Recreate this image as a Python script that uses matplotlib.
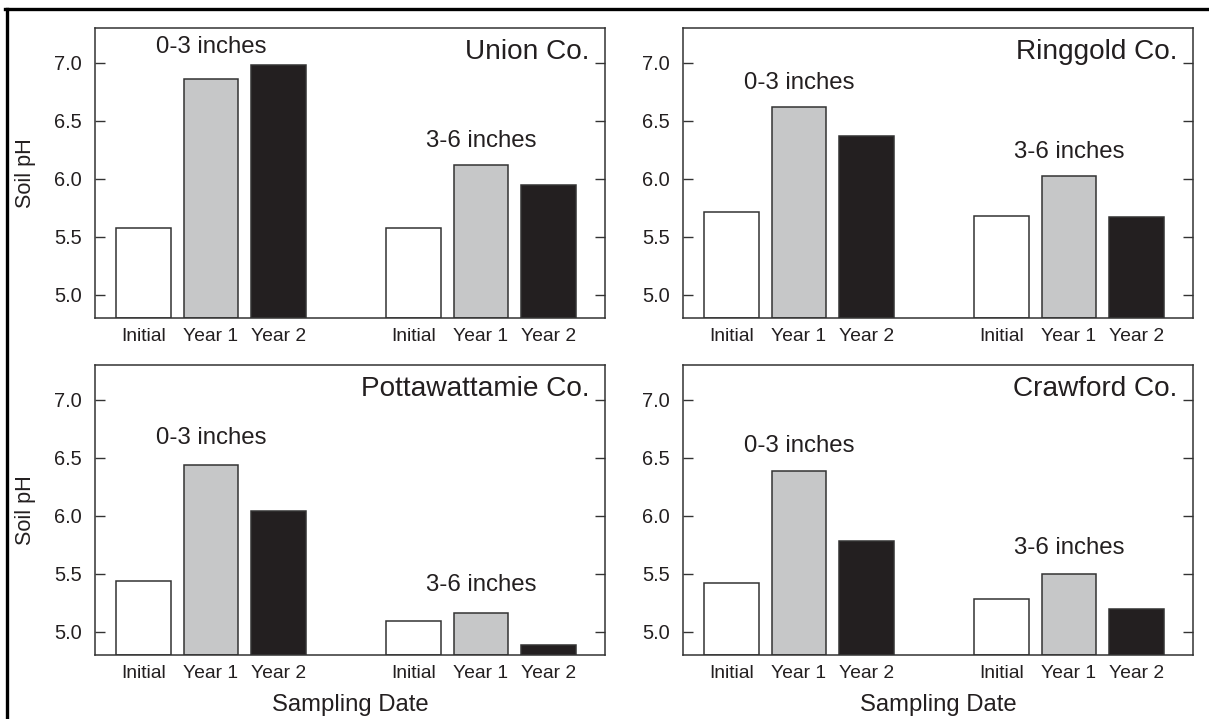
import numpy as np
import matplotlib
matplotlib.use("Agg")
import matplotlib.pyplot as plt
from matplotlib.lines import Line2D

plt.rcParams['font.family'] = ['Liberation Sans', 'DejaVu Sans']

# soil pH: initial, year 1, year 2 for each depth
counties = ["Union Co.", "Ringgold Co.", "Pottawattamie Co.", "Crawford Co."]
dates = ["Initial", "Year 1", "Year 2"]
ph_0_3 = [
    [5.58, 6.86, 6.98],
    [5.71, 6.62, 6.37],
    [5.44, 6.44, 6.04],
    [5.42, 6.39, 5.78],
]
ph_3_6 = [
    [5.58, 6.12, 5.95],
    [5.68, 6.02, 5.67],
    [5.09, 5.16, 4.89],
    [5.28, 5.50, 5.20],
]
# where the depth labels sit (pH units)
lab_0_3_y = [7.135, 6.83, 6.67, 6.60]
lab_3_6_y = [6.33, 6.23, 5.40, 5.72]

fills = ["white", "#c6c7c8", "#231f20"]
ink = "#231f20"
xpos_0_3 = np.array([0, 1, 2])
xpos_3_6 = np.array([4, 5, 6])

fig = plt.figure(figsize=(12.09, 7.19), dpi=100)
W, H = 1209, 719
boxes = [(95, 28), (683, 28), (95, 365), (683, 365)]
aw, ah = 510, 290

for i in range(4):
    x0, y0 = boxes[i]
    ax = fig.add_axes([x0 / W, 1 - (y0 + ah) / H, aw / W, ah / H])
    for j in range(3):
        ax.bar(xpos_0_3[j], ph_0_3[i][j] - 4.8, bottom=4.8, width=0.81,
               color=fills[j], edgecolor="#333333", linewidth=1.1)
        ax.bar(xpos_3_6[j], ph_3_6[i][j] - 4.8, bottom=4.8, width=0.81,
               color=fills[j], edgecolor="#333333", linewidth=1.1)
    ax.set_xlim(-0.72, 6.84)
    ax.set_ylim(4.8, 7.3)
    ax.set_yticks([5.0, 5.5, 6.0, 6.5, 7.0])
    ax.set_yticklabels(["5.0", "5.5", "6.0", "6.5", "7.0"])
    ax.set_xticks(list(xpos_0_3) + list(xpos_3_6))
    ax.set_xticklabels(dates + dates)
    ax.tick_params(axis='y', direction='in', left=True, right=True, length=7,
                   width=1.0, color="#333333", labelsize=14.4, pad=9.5, labelcolor=ink)
    ax.tick_params(axis='x', length=0, labelsize=13.9, pad=7, labelcolor=ink)
    for s in ax.spines.values():
        s.set_linewidth(1.1)
        s.set_color("#333333")

    ax.text(1, lab_0_3_y[i], "0-3 inches", ha='center', va='center', fontsize=17.3, color=ink)
    ax.text(5, lab_3_6_y[i], "3-6 inches", ha='center', va='center', fontsize=17.3, color=ink)
    ax.text(0.969, 0.917, counties[i], ha='right', va='center', transform=ax.transAxes,
            fontsize=20.2, color=ink)

    if i % 2 == 0:
        fig.text(25 / W, 1 - (y0 + ah / 2) / H, "Soil pH", rotation=90, ha='center',
                 va='center', fontsize=15.6, color=ink)
    if i >= 2:
        ax.text(0.5, -(705 - 655) / ah, "Sampling Date", ha='center', va='center',
                transform=ax.transAxes, fontsize=17.2, color=ink)

# frame: only the top and left edges show in the picture
fig.add_artist(Line2D([6.5 / W, 6.5 / W], [0, 1 - 8.5 / H], transform=fig.transFigure,
                      color="black", linewidth=2.4))
fig.add_artist(Line2D([5 / W, 1], [1 - 8.5 / H, 1 - 8.5 / H], transform=fig.transFigure,
                      color="black", linewidth=2.4))

fig.savefig("out.png", dpi=100)
